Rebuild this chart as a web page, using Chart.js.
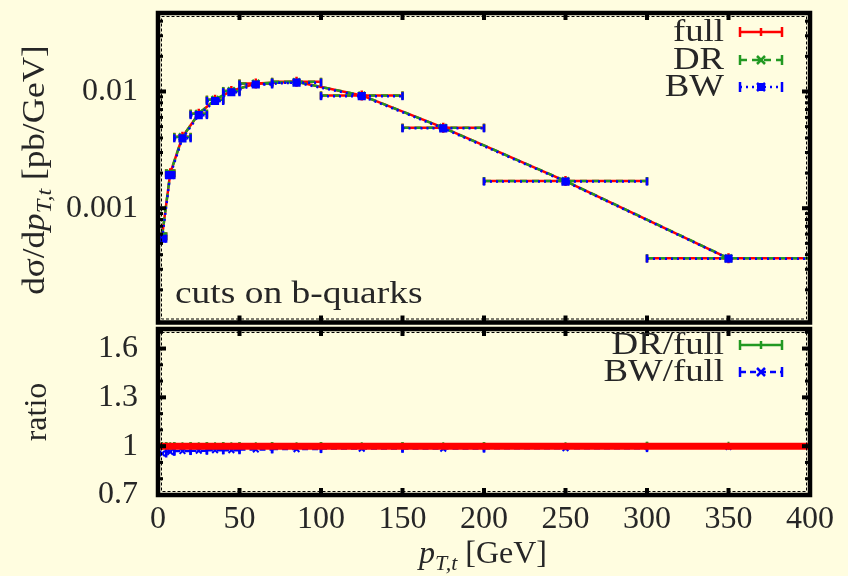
<!DOCTYPE html>
<html>
<head>
<meta charset="utf-8">
<script src="https://cdn.jsdelivr.net/npm/chart.js@4/dist/chart.umd.min.js"></script>
<style>
  html, body { margin: 0; padding: 0; background: #fffde0; }
  #wrap { position: relative; width: 848px; height: 576px; overflow: hidden; }
  canvas { position: absolute; left: 0; }
  #top { top: 0; }
  #bot { top: 323px; }
</style>
</head>
<body>
<div id="wrap">
  <canvas id="top" width="848" height="330"></canvas>
  <canvas id="bot" width="848" height="253"></canvas>
</div>
<script>
// ---- data ----
const binLo  = [0, 5, 10, 20, 30, 40, 50, 70, 100, 150, 200, 300];
const binHi  = [5, 10, 20, 30, 40, 50, 70, 100, 150, 200, 300, 400];
const binMid = [2.5, 7.5, 15, 25, 35, 45, 60, 85, 125, 175, 250, 350];

const fullVals = [5.74e-4, 1.99e-3, 4.09e-3, 6.45e-3, 8.50e-3, 1.01e-2, 1.17e-2, 1.21e-2, 9.25e-3, 4.90e-3, 1.71e-3, 3.72e-4];
const drVals   = [5.75e-4, 1.99e-3, 4.08e-3, 6.45e-3, 8.50e-3, 1.01e-2, 1.17e-2, 1.21e-2, 9.25e-3, 4.89e-3, 1.71e-3, 3.73e-4];
const bwVals   = [5.48e-4, 1.92e-3, 3.97e-3, 6.27e-3, 8.29e-3, 9.85e-3, 1.147e-2, 1.19e-2, 9.11e-3, 4.83e-3, 1.69e-3, 3.70e-4];

const drRatio  = [1.001, 1.000, 0.999, 1.000, 1.000, 1.000, 0.999, 1.000, 1.000, 0.999, 1.000, 1.003];
const bwRatio  = [0.955, 0.965, 0.970, 0.972, 0.975, 0.975, 0.980, 0.982, 0.985, 0.985, 0.988, 0.995];
const refX     = [0, 400];
const refRatio = [1, 1];

const xTicks     = [0, 50, 100, 150, 200, 250, 300, 350, 400];
const logTicks   = [0.001, 0.01];
const logMinor   = [2e-4, 3e-4, 4e-4, 5e-4, 6e-4, 7e-4, 8e-4, 9e-4, 2e-3, 3e-3, 4e-3, 5e-3, 6e-3, 7e-3, 8e-3, 9e-3, 2e-2, 3e-2, 4e-2];
const ratioTicks = [0.7, 1, 1.3, 1.6];
const ratioMinor = [0.8, 0.9, 1.1, 1.2, 1.4, 1.5, 1.7];

const RED = '#ff0000', GREEN = '#229922', BLUE = '#0000ff', INK = '#262626';
const SERIF = '"Liberation Serif", "DejaVu Serif", serif';

const pts = (xs, ys) => xs.map((x, i) => ({ x, y: ys[i] }));

// ---- helpers ----
function line(ctx, x1, y1, x2, y2) {
  ctx.beginPath(); ctx.moveTo(x1, y1); ctx.lineTo(x2, y2); ctx.stroke();
}

// text made of pieces: roman / italic / subscript
function font(p) {
  return (p.it ? 'italic ' : '') + (p.sub ? '22px ' : '32px ') + SERIF;
}
function richWidth(ctx, parts) {
  let w = 0;
  parts.forEach(p => { ctx.font = font(p); w += ctx.measureText(p.t).width; });
  return w;
}
function drawRich(ctx, parts, x, y) {
  parts.forEach(p => {
    ctx.font = font(p);
    ctx.fillText(p.t, x, y + (p.sub ? 7 : 0));
    x += ctx.measureText(p.t).width;
  });
}

// text a bit wider, like the TeX font of the original
function wideText(ctx, text, x, y, sx, align) {
  ctx.save();
  ctx.translate(x, y);
  ctx.scale(sx, 1);
  ctx.textAlign = align;
  ctx.fillText(text, 0, 0);
  ctx.restore();
}

// no label overhang padding: plot area is fixed by the layout padding
function noPad(s) { s.paddingTop = 0; s.paddingBottom = 0; s.paddingLeft = 0; s.paddingRight = 0; }

const errBars = {
  id: 'errBars',
  beforeDatasetDraw(chart, args) {
    const ds = chart.data.datasets[args.index];
    if (!ds.errLo) return;
    const ctx = chart.ctx, xs = chart.scales.x;
    ctx.save();
    ctx.strokeStyle = ds.borderColor;
    ctx.lineWidth = 2.5;
    args.meta.data.forEach((pt, i) => {
      const x1 = xs.getPixelForValue(ds.errLo[i]);
      const x2 = xs.getPixelForValue(ds.errHi[i]);
      ctx.setLineDash(ds.barDash || []);
      line(ctx, x1, pt.y, x2, pt.y);
      ctx.setLineDash([]);
      line(ctx, x1, pt.y - 4, x1, pt.y + 4);
      line(ctx, x2, pt.y - 4, x2, pt.y + 4);
    });
    ctx.restore();
  }
};

function drawFrame(chart, yMajor, yMinor) {
  const { ctx, chartArea: a } = chart;
  const xs = chart.scales.x, ys = chart.scales.y;
  ctx.save();
  ctx.strokeStyle = '#000';
  ctx.lineWidth = 1;
  ctx.setLineDash([3, 2]);
  ctx.strokeRect(a.left + 3.5, a.top + 3.5, a.width - 7, a.height - 7);
  ctx.setLineDash([]);
  ctx.lineWidth = 4;
  xTicks.forEach(v => {
    const x = xs.getPixelForValue(v);
    line(ctx, x, a.top, x, a.top + 7);
    line(ctx, x, a.bottom, x, a.bottom - 7);
  });
  yMajor.forEach(v => {
    const y = ys.getPixelForValue(v);
    line(ctx, a.left, y, a.left + 8, y);
    line(ctx, a.right, y, a.right - 8, y);
  });
  ctx.lineWidth = 3;
  yMinor.forEach(v => {
    const y = ys.getPixelForValue(v);
    line(ctx, a.left, y, a.left + 5, y);
    line(ctx, a.right, y, a.right - 5, y);
  });
  ctx.lineWidth = 4.5;
  ctx.strokeRect(a.left, a.top, a.width, a.height);
  ctx.restore();
}

function drawKey(ctx, entries) {
  ctx.save();
  entries.forEach(e => {
    ctx.fillStyle = INK;
    ctx.font = '32px ' + SERIF;
    ctx.textBaseline = 'middle';
    wideText(ctx, e.text, 724, e.y + 1, 1.15, 'right');
    ctx.strokeStyle = e.color;
    ctx.lineWidth = 2.5;
    ctx.setLineDash(e.dash);
    line(ctx, 740, e.y, 782, e.y);
    ctx.setLineDash([]);
    line(ctx, 740, e.y - 5, 740, e.y + 5);
    line(ctx, 782, e.y - 5, 782, e.y + 5);
    const m = 761;
    if (e.mark === 'plus') line(ctx, m, e.y - 4, m, e.y + 4);
    if (e.mark === 'x' || e.mark === 'star') {
      line(ctx, m - 4, e.y - 4, m + 4, e.y + 4);
      line(ctx, m - 4, e.y + 4, m + 4, e.y - 4);
    }
    if (e.mark === 'star') { ctx.fillStyle = e.color; ctx.fillRect(m - 4, e.y - 4, 8, 8); }
  });
  ctx.restore();
}

const commonX = (h) => ({
  type: 'linear', min: 0, max: 400,
  grid: { display: false, drawTicks: false },
  border: { display: false },
  afterFit(s) { s.height = h; noPad(s); }
});

// ---- upper panel ----
new Chart(document.getElementById('top'), {
  type: 'line',
  data: {
    datasets: [
      { label: 'full', data: pts(binMid, fullVals), borderColor: RED, backgroundColor: RED,
        borderWidth: 2.5, pointStyle: 'cross', pointRadius: 5, errLo: binLo, errHi: binHi, order: 3 },
      { label: 'DR', data: pts(binMid, drVals), borderColor: GREEN, backgroundColor: GREEN,
        borderWidth: 2.5, borderDash: [7, 5], pointStyle: 'crossRot', pointRadius: 5,
        errLo: binLo, errHi: binHi, barDash: [7, 5], order: 2 },
      { label: 'BW', data: pts(binMid, bwVals), borderColor: BLUE, backgroundColor: BLUE,
        borderWidth: 2.5, borderDash: [2, 4], pointStyle: 'rect', pointRadius: 4,
        errLo: binLo, errHi: binHi, barDash: [2, 4], order: 1 }
    ]
  },
  options: {
    responsive: false, animation: false,
    layout: { padding: { top: 13, right: 38, left: 0, bottom: 0 } },
    plugins: { legend: { display: false }, tooltip: { enabled: false } },
    scales: {
      x: Object.assign(commonX(7), { ticks: { display: false } }),
      y: {
        type: 'logarithmic', min: 1.05e-4, max: 0.047,
        grid: { display: false, drawTicks: false },
        border: { display: false },
        afterBuildTicks(s) { s.ticks = logTicks.map(v => ({ value: v })); },
        afterFit(s) { s.width = 158; noPad(s); },
        ticks: { color: INK, padding: 20, font: { family: SERIF, size: 32 }, callback: v => String(v) }
      }
    }
  },
  plugins: [errBars, {
    id: 'decorTop',
    afterDraw(chart) {
      drawFrame(chart, logTicks, logMinor);
      const ctx = chart.ctx;
      drawKey(ctx, [
        { text: 'full', y: 32, color: RED, dash: [], mark: 'plus' },
        { text: 'DR', y: 60, color: GREEN, dash: [7, 5], mark: 'x' },
        { text: 'BW', y: 87, color: BLUE, dash: [2, 4], mark: 'star' }
      ]);
      ctx.save();
      ctx.fillStyle = INK;
      ctx.textBaseline = 'alphabetic';
      ctx.font = '32px ' + SERIF;
      wideText(ctx, 'cuts on b-quarks', 175, 303, 1.17, 'left');
      // y title
      const parts = [{ t: 'dσ/d' }, { t: 'p', it: true }, { t: 'T,t', it: true, sub: true }, { t: ' [pb/GeV]' }];
      ctx.translate(44, 170);
      ctx.rotate(-Math.PI / 2);
      ctx.scale(1.1, 1);
      const w = richWidth(ctx, parts);
      drawRich(ctx, parts, -w / 2, 0);
      ctx.restore();
    }
  }]
});

// ---- ratio panel ----
new Chart(document.getElementById('bot'), {
  type: 'line',
  data: {
    datasets: [
      { label: 'DR/full', data: pts(binMid, drRatio), borderColor: GREEN, backgroundColor: GREEN,
        showLine: false, pointStyle: 'cross', pointRadius: 4, pointBorderWidth: 2,
        errLo: binLo, errHi: binHi, order: 2 },
      { label: 'BW/full', data: pts(binMid, bwRatio), borderColor: BLUE, backgroundColor: BLUE,
        showLine: false, pointStyle: 'crossRot', pointRadius: 4, pointBorderWidth: 2,
        errLo: binLo, errHi: binHi, barDash: [6, 4], order: 1 },
      { label: 'full/full', data: pts(refX, refRatio), borderColor: RED, borderWidth: 7,
        pointRadius: 0, order: 0 }
    ]
  },
  options: {
    responsive: false, animation: false,
    layout: { padding: { top: 0, right: 38, left: 0, bottom: 0 } },
    plugins: { legend: { display: false }, tooltip: { enabled: false } },
    scales: {
      x: Object.assign(commonX(81), {
        afterBuildTicks(s) { s.ticks = xTicks.map(v => ({ value: v })); },
        ticks: { color: INK, padding: 5, maxRotation: 0, font: { family: SERIF, size: 32 } }
      }),
      y: {
        type: 'linear', min: 0.7, max: 1.72,
        grid: { display: false, drawTicks: false },
        border: { display: false },
        afterBuildTicks(s) { s.ticks = ratioTicks.map(v => ({ value: v })); },
        afterFit(s) { s.width = 158; noPad(s); },
        ticks: { color: INK, padding: 20, font: { family: SERIF, size: 32 }, callback: v => String(v) }
      }
    }
  },
  plugins: [errBars, {
    id: 'decorBot',
    afterDraw(chart) {
      drawFrame(chart, ratioTicks, ratioMinor);
      const ctx = chart.ctx;
      drawKey(ctx, [
        { text: 'DR/full', y: 22, color: GREEN, dash: [], mark: 'plus' },
        { text: 'BW/full', y: 49, color: BLUE, dash: [6, 4], mark: 'x' }
      ]);
      ctx.save();
      ctx.fillStyle = INK;
      ctx.textBaseline = 'alphabetic';
      // x title
      const xp = [{ t: 'p', it: true }, { t: 'T,t', it: true, sub: true }, { t: ' [GeV]' }];
      const wx = richWidth(ctx, xp);
      drawRich(ctx, xp, 483 - wx / 2, 240);
      // y title
      ctx.translate(46, 89);
      ctx.rotate(-Math.PI / 2);
      ctx.font = '32px ' + SERIF;
      ctx.textAlign = 'center';
      ctx.fillText('ratio', 0, 0);
      ctx.restore();
    }
  }]
});
</script>
</body>
</html>
